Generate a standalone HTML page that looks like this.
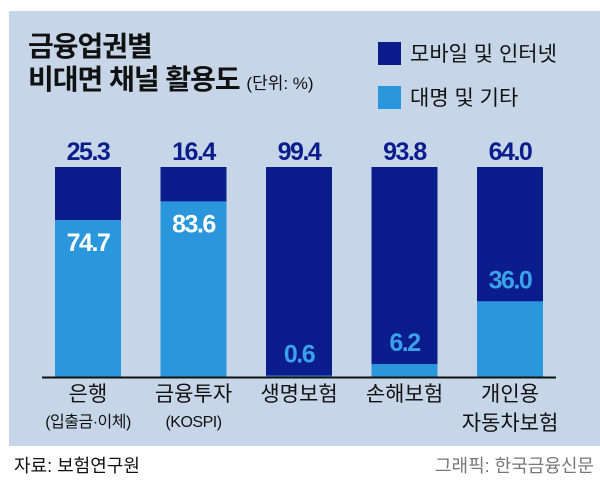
<!DOCTYPE html>
<html><head><meta charset="utf-8"><style>
body{margin:0;width:600px;height:482px;background:#fff;font-family:"Liberation Sans","Noto Sans CJK KR",sans-serif;overflow:hidden}
svg text{font-family:"Liberation Sans","Noto Sans CJK KR",sans-serif}
</style></head><body>
<svg width="600" height="482">
<rect x="9" y="11" width="591" height="435" fill="#c6d6e8"/>
<text x="28" y="56" font-size="28" font-weight="bold" fill="#111" letter-spacing="-1">금융업권별</text>
<text x="28" y="89" font-size="28" font-weight="bold" fill="#111" letter-spacing="-1">비대면 채널 활용도 <tspan font-size="17" font-weight="normal" letter-spacing="0">(단위: %)</tspan></text>
<rect x="378" y="42" width="23" height="23" fill="#0b1d8c"/>
<text x="410" y="61" font-size="21" fill="#111">모바일 및 인터넷</text>
<rect x="378" y="86" width="23" height="23" fill="#2a96dc"/>
<text x="410" y="105" font-size="21" fill="#111">대명 및 기타</text>
<g id="bars"></g>
<line x1="42" y1="377.5" x2="556" y2="377.5" stroke="#111" stroke-width="2"/>
<text x="14" y="472" font-size="18" fill="#111">자료: 보험연구원</text>
<text x="594" y="472" font-size="18" fill="#777" text-anchor="end">그래픽: 한국금융신문</text>
</svg>
<script>
const categories=[["은행","(입출금·이체)"],["금융투자","(KOSPI)"],["생명보험"],["손해보험"],["개인용","자동차보험"]];
const mobile=[25.3,16.4,99.4,93.8,64.0];
const offline=[74.7,83.6,0.6,6.2,36.0];
const NS="http://www.w3.org/2000/svg";
const g=document.getElementById('bars');
const top0=167,base=377,bw=66;
const y=v=>base-(v/100)*(base-top0);
const xc=i=>88+i*105.5;
function mk(t,a){const e=document.createElementNS(NS,t);for(const k in a)e.setAttribute(k,a[k]);g.appendChild(e);return e;}
categories.forEach((c,i)=>{
 const x=xc(i)-bw/2, tot=mobile[i]+offline[i];
 const ly=y(offline[i]);
 const d=mk('rect',{x:x,y:y(tot),width:bw,height:ly-y(tot),fill:'#0b1d8c'});
 
 
 const l=mk('rect',{x:x,y:ly,width:bw,height:base-ly,fill:'#2a96dc'});
 
 
 const t=mk('text',{x:xc(i),y:y(tot)-7,'font-size':25,'font-weight':'bold',fill:'#0b1d8c','text-anchor':'middle','letter-spacing':'-1.5'});
 t.textContent=mobile[i].toFixed(1);
 
 
 const inside=offline[i]>50;
 const t2=mk('text',{x:xc(i),y:inside?ly+31:ly-13,'font-size':25,'font-weight':'bold',fill:inside?'#fff':'#3aa2e8','text-anchor':'middle','letter-spacing':'-1.5'});
 t2.textContent=offline[i].toFixed(1);
 
 
 c.forEach((s,j)=>{
  const small=j>0&&i<2;
  const ct=mk('text',{x:xc(i),y:small?427:401+j*29,'font-size':small?16:21,fill:'#111','text-anchor':'middle','letter-spacing':small?'-0.5':'0'});
  ct.textContent=s;
  
  
 });
});
</script>
</body></html>
